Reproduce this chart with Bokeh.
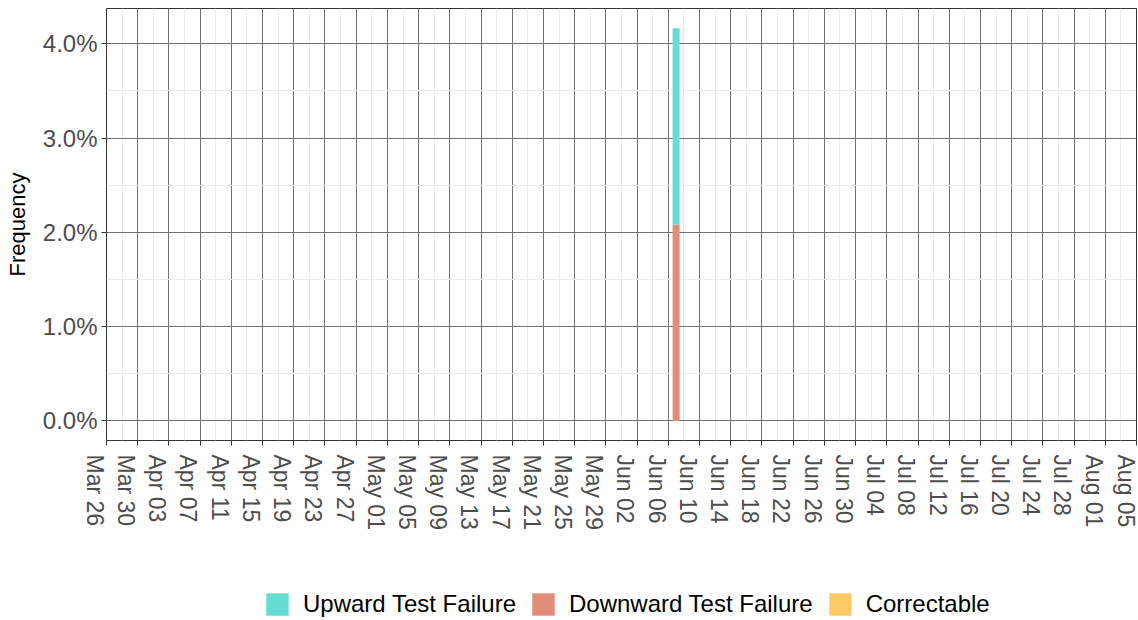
import pandas as pd
from bokeh.plotting import figure
from bokeh.layouts import column
from bokeh.models import (ColumnDataSource, FixedTicker, NumeralTickFormatter,
                          Range1d, Legend, LegendItem, CustomJSTickFormatter)
from bokeh.embed import file_html
from bokeh.resources import INLINE

# ---- data ----
dates = ["2023-06-07"]
upward = [0.020833]
downward = [0.020833]
correctable = [0.0]
series_keys = ["correctable", "downward", "upward"]          # stacking order bottom->top
legend_keys = ["upward", "downward", "correctable"]
legend_names = ["Upward Test Failure", "Downward Test Failure", "Correctable"]
legend_colors = ["#66DDD2", "#E28D78", "#FFC966"]
x_start, x_end = "2023-03-26", "2023-08-05"
tick_step_days = 4
tick_labels = ["Mar 26", "Mar 30", "Apr 03", "Apr 07", "Apr 11", "Apr 15", "Apr 19",
               "Apr 23", "Apr 27", "May 01", "May 05", "May 09", "May 13", "May 17",
               "May 21", "May 25", "May 29", "Jun 02", "Jun 06", "Jun 10", "Jun 14",
               "Jun 18", "Jun 22", "Jun 26", "Jun 30", "Jul 04", "Jul 08", "Jul 12",
               "Jul 16", "Jul 20", "Jul 24", "Jul 28", "Aug 01", "Aug 05"]
y_ticks = [0.0, 0.01, 0.02, 0.03, 0.04]
y_minor = [0.005, 0.015, 0.025, 0.035]
y_limits = (-0.00208, 0.04375)

FONT = "Liberation Sans"
DAY_MS = 86400000

src = ColumnDataSource(dict(
    date=pd.to_datetime(dates),
    upward=upward, downward=downward, correctable=correctable,
))

t0 = pd.Timestamp(x_start).value / 1e6
t1 = pd.Timestamp(x_end).value / 1e6
major = [t0 + i * tick_step_days * DAY_MS for i in range(len(tick_labels))]
minor = [m + tick_step_days * DAY_MS / 2 for m in major[:-1]]

p = figure(width=1138, height=580, x_axis_type="datetime",
           output_backend="svg", toolbar_location=None,
           x_range=Range1d(t0, t1), y_range=Range1d(*y_limits),
           min_border_left=106, min_border_right=2, min_border_top=8,
           min_border_bottom=140)

color_map = dict(zip(legend_keys, legend_colors))
p.vbar_stack(series_keys, x="date", width=0.9 * DAY_MS, source=src,
             color=[color_map[k] for k in series_keys], line_color=None)

# x axis: rotated labels, set on a second line so each sits just left of its tick
# (the last one stays single-line; it is nudged inside the canvas edge)
xa = p.xaxis[0]
xa.ticker = FixedTicker(ticks=major, minor_ticks=minor)
xa.formatter = CustomJSTickFormatter(
    args=dict(tk=major, lab=tick_labels),
    code=("const i = tk.indexOf(tick);"
          "if (i < 0) return '';"
          "return i == lab.length - 1 ? lab[i] : '\\n' + lab[i];"))
xa.axis_line_color = None
xa.major_tick_line_color = "#333333"
xa.major_tick_out = 5
xa.major_tick_in = 0
xa.minor_tick_line_color = None
xa.major_label_orientation = -3.14159265 / 2
xa.major_label_standoff = 9
xa.major_label_text_font = FONT
xa.major_label_text_font_size = "23px"
xa.major_label_text_color = "#4D4D4D"
xa.major_label_text_line_height = 0.9

ya = p.yaxis[0]
ya.ticker = FixedTicker(ticks=y_ticks, minor_ticks=y_minor)
ya.formatter = NumeralTickFormatter(format="0.0%")
ya.axis_label = "Frequency"
ya.axis_line_color = None
ya.major_tick_line_color = "#333333"
ya.major_tick_out = 5
ya.major_tick_in = 0
ya.minor_tick_line_color = None
ya.major_label_text_font = FONT
ya.major_label_text_font_size = "24px"
ya.major_label_text_color = "#4D4D4D"
ya.major_label_standoff = 4
ya.axis_label_text_font = FONT
ya.axis_label_text_font_size = "22px"
ya.axis_label_text_font_style = "normal"
ya.axis_label_text_color = "black"
ya.axis_label_standoff = 10

p.xgrid.grid_line_color = "#707070"
p.ygrid.grid_line_color = "#707070"
p.xgrid.minor_grid_line_color = "#EBEBEB"
p.ygrid.minor_grid_line_color = "#EBEBEB"
p.outline_line_color = "#333333"
p.outline_line_width = 1
p.background_fill_color = "white"
p.border_fill_color = "white"

# ---- legend strip below the plot ----
lg = figure(width=1138, height=40, output_backend="svg", toolbar_location=None,
            x_range=Range1d(0, 1), y_range=Range1d(0, 1),
            x_axis_location=None, y_axis_location=None,
            min_border_left=0, min_border_right=0, min_border_top=0,
            min_border_bottom=0)
lg.grid.visible = False
lg.outline_line_color = None
items = []
for key, name, col in zip(legend_keys, legend_names, legend_colors):
    r = lg.vbar(x="date", top=key, width=1, source=src, color=col, line_color=None)
    items.append(LegendItem(label=name, renderers=[r]))
legend = Legend(items=items, orientation="horizontal", location=(157, 2),
                glyph_width=28, glyph_height=28, label_standoff=12, spacing=13,
                padding=0, margin=0, border_line_color=None,
                background_fill_alpha=0,
                label_text_font=FONT, label_text_font_size="24px",
                label_text_color="black")
lg.add_layout(legend, "center")

layout = column(p, lg, spacing=0)
open("out.html", "w").write(file_html(layout, INLINE))
